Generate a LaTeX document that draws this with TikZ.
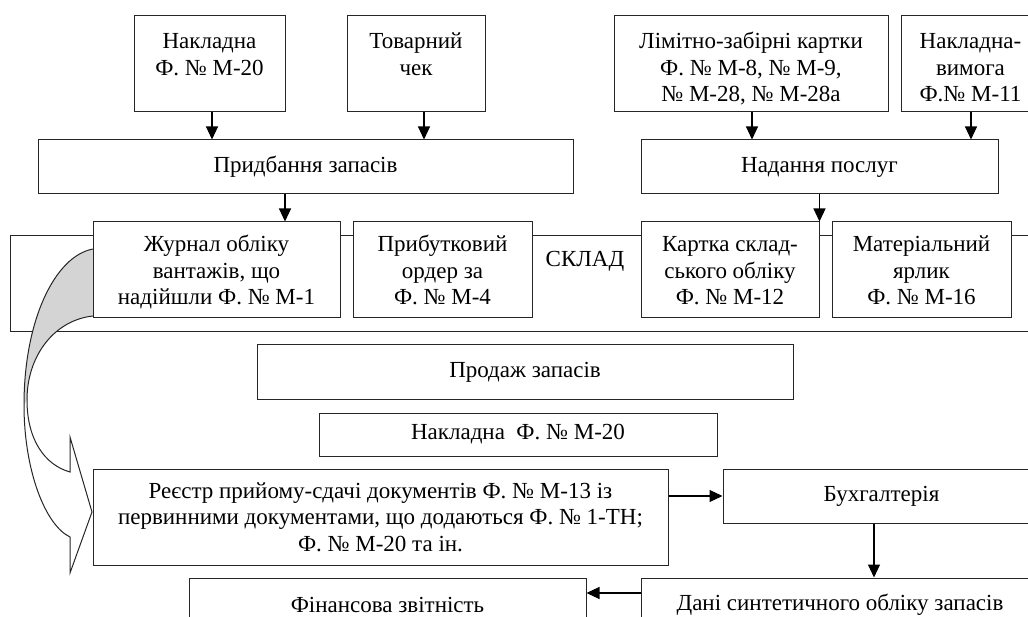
\documentclass[tikz,border=0pt]{standalone}
\usepackage{fontspec}
\setmainfont{Liberation Serif}
\usetikzlibrary{arrows.meta}
\newcommand\fs{\fontsize{23}{26.5}\selectfont}
\newcommand\toptxt[3]{\parbox[c][#2][t]{#1}{\centering\vspace*{14pt}\strut#3}}
\newcommand\midtxt[1]{\raisebox{-9pt}[0pt][0pt]{\begin{tabular}{@{}c@{}}#1\end{tabular}}}
\begin{document}
\begin{tikzpicture}[x=1pt,y=-1pt,
  box/.style={draw=black!85, line width=1pt, fill=white, inner sep=0pt, align=center, font=\fs},
  topbox/.style={draw=black!85, line width=1pt, fill=white, inner sep=0pt, font=\fs},
  arr/.style={draw=black, line width=1.1pt, -{Triangle[length=13pt,width=12pt]}},
  outline/.style={draw=black!85, line width=1pt},
]
\useasboundingbox (0,0) rectangle (1028,617);
\clip (0,0) rectangle (1028,617);

% top row
\node[topbox] (nA) at (209.5,64) {\toptxt{151pt}{96pt}{Накладна\\Ф. № М-20}};
\node[topbox] (nB) at (416,64) {\toptxt{138pt}{96pt}{Товарний\\чек}};
\node[topbox] (nC) at (751,64) {\toptxt{274pt}{96pt}{Лімітно-забірні картки\\Ф. № М-8, № М-9,\\№ М-28, № М-28а}};
\node[topbox] (nD) at (970.5,64) {\toptxt{139pt}{96pt}{Накладна-\\вимога\\Ф.№ М-11}};

% second row
\node[box, minimum width=535pt, minimum height=54pt] (pz) at (305.5,167) {Придбання запасів};
\node[box, minimum width=357pt, minimum height=54pt] (np) at (819.5,167) {Надання послуг};

% warehouse frame
\node[draw=black!85, line width=1pt, inner sep=0pt, minimum width=1040pt, minimum height=96pt] (sklad) at (530,284) {};
\node[font=\fs, inner sep=0pt] (skl) at (585,261) {СКЛАД};

% curved block arrow
\path[fill=white] (93,249) .. controls (55,256) and (24,320) .. (24,405)
  .. controls (24,470) and (45,525) .. (70,537) -- (70,573) -- (92,512) -- (70,437) -- (70,472)
  .. controls (45,465) and (27,440) .. (27,400) .. controls (27,355) and (55,320) .. (93,316) -- cycle;
\fill[black!17] (93,249) .. controls (55,256) and (24,320) .. (24,405) -- (27,400)
  .. controls (27,355) and (55,320) .. (93,316) -- cycle;
\draw[outline, line join=miter] (93,249) .. controls (55,256) and (24,320) .. (24,405)
  .. controls (24,470) and (45,525) .. (70,537) -- (70,573) -- (92,512) -- (70,437) -- (70,472)
  .. controls (45,465) and (27,440) .. (27,400) .. controls (27,355) and (55,320) .. (93,316);

% warehouse documents
\node[box, minimum width=247pt, minimum height=96pt] (jr) at (216.5,270) {\midtxt{Журнал обліку\\вантажів, що\\надійшли Ф. № М-1}};
\node[box, minimum width=179pt, minimum height=96pt] (po) at (442.5,270) {\midtxt{Прибутковий\\ордер за\\Ф. № М-4}};
\node[box, minimum width=178pt, minimum height=96pt] (kt) at (730,270) {\midtxt{Картка склад-\\ського обліку\\Ф. № М-12}};
\node[box, minimum width=179pt, minimum height=96pt] (my) at (921.5,270) {\midtxt{Матеріальний\\ярлик\\Ф. № М-16}};

% lower part
\node[box, minimum width=536pt, minimum height=55pt] (pr) at (525,372.5) {Продаж запасів};
\node[box, minimum width=398pt, minimum height=43pt] (nk) at (518,434.5) {Накладна~ Ф. № М-20};
\node[box, minimum width=575pt, minimum height=96pt] (re) at (380.5,517) {Реєстр прийому-сдачі документів Ф. № М-13 із\\первинними документами, що додаються Ф. № 1-ТН;\\Ф. № М-20 та ін.};
\node[box, minimum width=317pt, minimum height=54pt] (bu) at (881.5,496) {Бухгалтерія};
\node[box, minimum width=398pt, minimum height=54pt] (dn) at (840,605) {Дані синтетичного обліку запасів};
\node[box, minimum width=397pt, minimum height=54pt] (fz) at (387.5,605) {Фінансова звітність};

% connectors
\draw[arr] ([xshift=2.5pt]nA.south) -- ([xshift=2.5pt]nA.south |- pz.north);
\draw[arr] ([xshift=8pt]nB.south) -- ([xshift=8pt]nB.south |- pz.north);
\draw[arr] ([xshift=1pt]nC.south) -- ([xshift=1pt]nC.south |- np.north);
\draw[arr] ([xshift=0.5pt]nD.south) -- ([xshift=0.5pt]nD.south |- np.north);
\draw[arr] ([xshift=-20.5pt]pz.south) -- ([xshift=-20.5pt]pz.south |- jr.north);
\draw[arr] (np.south) -- (np.south |- kt.north);
\draw[arr] (re.east |- bu.west) -- (bu.west);
\draw[arr] ([xshift=-7.5pt]bu.south) -- ([xshift=-7.5pt]bu.south |- dn.north);
\draw[arr] ([yshift=12pt]dn.west) -- ([yshift=12pt]dn.west -| fz.east);
\end{tikzpicture}
\end{document}
